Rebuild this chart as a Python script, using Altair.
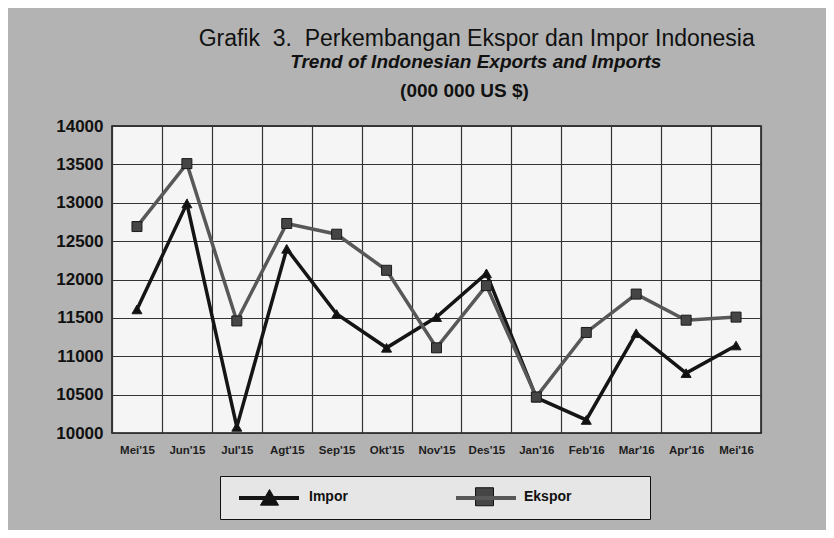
import altair as alt
import pandas as pd

# ---- data ----
months = ["Mei'15", "Jun'15", "Jul'15", "Agt'15", "Sep'15", "Okt'15", "Nov'15",
          "Des'15", "Jan'16", "Feb'16", "Mar'16", "Apr'16", "Mei'16"]
impor = [11610, 12990, 10080, 12400, 11550, 11110, 11510,
         12080, 10460, 10170, 11300, 10780, 11140]
ekspor = [12690, 13510, 11460, 12730, 12590, 12120, 11110,
          11920, 10470, 11310, 11810, 11470, 11510]
series_names = ["Impor", "Ekspor"]
y_ticks = [10000, 10500, 11000, 11500, 12000, 12500, 13000, 13500, 14000]
title_lines = ["Grafik \u00a03. \u00a0Perkembangan Ekspor dan Impor Indonesia",
               "Trend of Indonesian Exports and Imports",
               "(000 000 US $)"]

rows = []
for name, vals in zip(series_names, [impor, ekspor]):
    for m, v in zip(months, vals):
        rows.append({"bulan": m, "seri": name, "nilai": v})
df = pd.DataFrame(rows)

W, H = 649, 307
FONT = "Liberation Sans Narrow, Arial Narrow, Liberation Sans, sans-serif"
LINE_COLORS = ["#151515", "#585858"]
MARK_FILLS = ["#111111", "#454545"]
LEGEND_FILL = "#e6e6e6"

x_enc = alt.X("bulan:N", sort=months,
              scale=alt.Scale(type="band", paddingInner=0, paddingOuter=0),
              axis=alt.Axis(title=None, labelAngle=0, tickBand="extent", ticks=False,
                            domain=False, grid=True, gridColor="#333333", gridWidth=1.2,
                            labelFont=FONT, labelFontSize=11.5, labelFontWeight="bold",
                            labelColor="#1e1e1e", labelPadding=11))
y_enc = alt.Y("nilai:Q",
              scale=alt.Scale(domain=[10000, 14000], nice=False, zero=False),
              axis=alt.Axis(title=None, values=y_ticks, format="d", ticks=False,
                            domain=False, grid=True, gridColor="#333333", gridWidth=1.2,
                            labelFont=FONT, labelFontSize=17, labelFontWeight="bold",
                            labelColor="#111111", labelPadding=9))

# legend A: box, markers and labels (from the marker layer)
marker_legend = alt.Legend(
    title="x", titleOrient="right", titleColor=LEGEND_FILL, titleFontSize=10,
    titlePadding=62,
    orient="none", legendX=108, legendY=350, direction="horizontal",
    fillColor=LEGEND_FILL, strokeColor="#111111", padding=11,
    symbolSize=324, symbolStrokeWidth=1, symbolOffset=29,
    labelOffset=30, columnPadding=98,
    labelFont=FONT, labelFontSize=14, labelFontWeight="bold", labelColor="#111111",
    symbolFillColor={"expr": f"datum.value == 'Impor' ? '{MARK_FILLS[0]}' : '{MARK_FILLS[1]}'"},
    symbolStrokeColor="#111111",
    zindex=0,
)
# legend B: the line strokes, drawn over the box, no labels
line_legend = alt.Legend(
    title=None, orient="none", legendX=125, legendY=340, direction="horizontal",
    padding=0, symbolType="stroke", symbolSize=3600, symbolStrokeWidth=4,
    labelExpr="''", labelOffset=0, columnPadding=141,
    zindex=1,
)

color_enc = alt.Color("seri:N",
                      scale=alt.Scale(domain=series_names, range=LINE_COLORS),
                      legend=line_legend)

lines = alt.Chart(df).mark_line(strokeWidth=3.5).encode(
    x=x_enc, y=y_enc, color=color_enc)

points = alt.Chart(df).mark_point(filled=True, opacity=1, stroke="#1a1a1a",
                                  strokeWidth=1, size=100).encode(
    x=x_enc, y=y_enc,
    fill=alt.Fill("seri:N", scale=alt.Scale(domain=series_names, range=MARK_FILLS),
                  legend=None),
    shape=alt.Shape("seri:N", sort=series_names,
                    scale=alt.Scale(range=["triangle-up", "square"]),
                    legend=marker_legend),
)

t1 = alt.Chart(alt.Data(values=[{"t": title_lines[0]}])).mark_text(
    font=FONT, fontSize=23, fontWeight="normal", color="#111111",
    align="center", baseline="alphabetic").encode(
    text="t:N", x=alt.value(364.7), y=alt.value(-80))
t2 = alt.Chart(alt.Data(values=[{"t": title_lines[1]}])).mark_text(
    font=FONT, fontSize=19, fontWeight="bold", fontStyle="italic", color="#111111",
    align="center", baseline="alphabetic").encode(
    text="t:N", x=alt.value(363.8), y=alt.value(-57.7))
t3 = alt.Chart(alt.Data(values=[{"t": title_lines[2]}])).mark_text(
    font=FONT, fontSize=19, fontWeight="bold", color="#111111",
    align="center", baseline="alphabetic").encode(
    text="t:N", x=alt.value(352.5), y=alt.value(-28.7))

chart = alt.layer(lines, points, t1, t2, t3).properties(
    width=W, height=H,
    autosize=alt.AutoSizeParams(type="none"),
    padding={"left": 104, "top": 118, "right": 65, "bottom": 97},
    background="#b3b3b3",
).configure_view(
    fill="#f5f5f5", stroke="#111111", strokeWidth=1.5
)

chart.save("out.html", embed_options={"renderer": "svg", "actions": False})
